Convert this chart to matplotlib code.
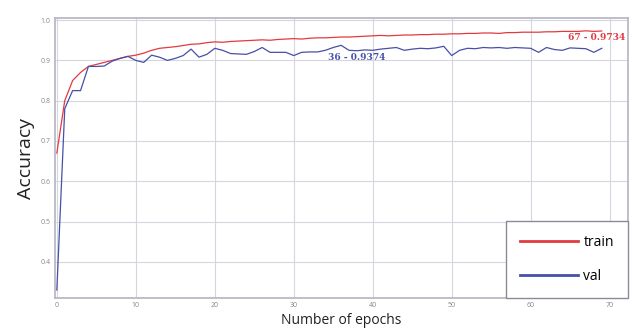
import matplotlib
matplotlib.use("Agg")
import matplotlib.pyplot as plt
import numpy as np

# accuracy per epoch
epochs = list(range(70))
train_acc = [0.67, 0.80, 0.85, 0.87, 0.885, 0.890, 0.895, 0.900, 0.905, 0.910,
             0.913, 0.918, 0.925, 0.930, 0.932, 0.934, 0.937, 0.940, 0.941, 0.944,
             0.946, 0.945, 0.947, 0.948, 0.949, 0.950, 0.951, 0.950, 0.952, 0.953,
             0.954, 0.953, 0.955, 0.956, 0.956, 0.957, 0.958, 0.958, 0.959, 0.960,
             0.961, 0.962, 0.961, 0.962, 0.963, 0.963, 0.964, 0.964, 0.965, 0.965,
             0.966, 0.966, 0.967, 0.967, 0.968, 0.968, 0.967, 0.969, 0.969, 0.970,
             0.970, 0.970, 0.971, 0.971, 0.972, 0.972, 0.972, 0.9734, 0.972, 0.973]
val_acc = [0.33, 0.78, 0.825, 0.825, 0.885, 0.885, 0.886, 0.898, 0.905, 0.910,
           0.900, 0.895, 0.913, 0.908, 0.900, 0.905, 0.912, 0.928, 0.908, 0.915,
           0.930, 0.925, 0.917, 0.916, 0.915, 0.922, 0.932, 0.920, 0.920, 0.920,
           0.912, 0.920, 0.921, 0.921, 0.925, 0.932, 0.9374, 0.925, 0.924, 0.926,
           0.925, 0.928, 0.930, 0.932, 0.925, 0.928, 0.930, 0.929, 0.931, 0.935,
           0.912, 0.925, 0.930, 0.929, 0.932, 0.931, 0.932, 0.930, 0.932, 0.931,
           0.930, 0.920, 0.932, 0.927, 0.925, 0.931, 0.930, 0.929, 0.920, 0.930]
x_ticks = [0, 10, 20, 30, 40, 50, 60, 70]
y_ticks = [0.4, 0.5, 0.6, 0.7, 0.8, 0.9, 1.0]

train_color = '#e23a3f'
val_color = '#4650a8'

plt.rcParams['font.family'] = ['Open Sans', 'DejaVu Sans']

fig = plt.figure(figsize=(6.38, 3.29), dpi=100)
ax = fig.add_axes([0.086, 0.094, 0.898, 0.851])

ax.plot(epochs, train_acc, color=train_color, lw=0.9, label='train')
ax.plot(epochs, val_acc, color=val_color, lw=0.9, label='val')

# mark the best epoch of each curve
best_t = int(np.argmax(train_acc))
best_v = int(np.argmax(val_acc))
ax.annotate(f'{best_t} - {train_acc[best_t]:.4f}', xy=(best_t, train_acc[best_t]),
            xytext=(8, -5), textcoords='offset points', ha='center', va='center',
            color=train_color, fontsize=6.5, fontweight='bold', family='DejaVu Serif')
ax.annotate(f'{best_v} - {val_acc[best_v]:.4f}', xy=(best_v, val_acc[best_v]),
            xytext=(11.5, -9), textcoords='offset points', ha='center', va='center',
            color=val_color, fontsize=6.5, fontweight='bold', family='DejaVu Serif')

ax.set_xlim(-0.25, 72.3)
ax.set_ylim(0.31, 1.005)
ax.set_xticks(x_ticks)
ax.set_yticks(y_ticks)
ax.set_yticklabels([f'{v:.1f}' for v in y_ticks])
ax.tick_params(length=0, labelsize=5, colors='#888888', pad=3)
ax.grid(True, color='#d6d6e0', lw=0.8)
for s in ax.spines.values():
    s.set_color('#b4b4c4')
    s.set_linewidth(1.2)

ax.set_xlabel('Number of epochs', fontsize=10, color='#222222', labelpad=3)
ax.set_ylabel('Accuracy', fontsize=14, color='#222222', labelpad=4)

leg = ax.legend(loc='lower right', borderaxespad=0, fontsize=10, handlelength=4.2,
                labelspacing=1.4, borderpad=1.0, fancybox=False, framealpha=1,
                edgecolor='#8a8a9a', handletextpad=0.4)
for ln in leg.get_lines():
    ln.set_linewidth(2)

fig.savefig('out.png', dpi=100)
